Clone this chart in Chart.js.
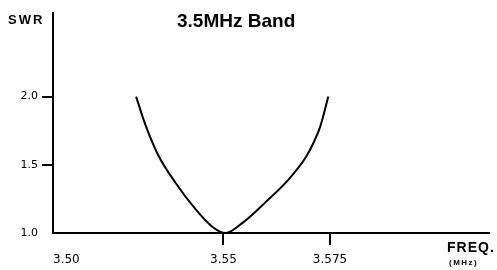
<!DOCTYPE html>
<html>
<head>
<meta charset="utf-8">
<script src="https://cdn.jsdelivr.net/npm/chart.js@4"></script>
<style>
  html, body { margin: 0; padding: 0; background: #fff; }
  #wrap { width: 497px; height: 270px; position: relative; }
</style>
</head>
<body>
<div id="wrap"><canvas id="chart"></canvas></div>
<script>
/* ===============================
   data
================================ */
const freqs = [3.5295, 3.5316, 3.5347, 3.5387, 3.5433, 3.5476, 3.5505,
               3.5547, 3.5600, 3.5652, 3.5692, 3.5711, 3.5727, 3.5746];
const swr = [2.0, 1.80, 1.57, 1.37, 1.18, 1.04, 1.0,
             1.08, 1.23, 1.39, 1.55, 1.66, 1.78, 2.0];

const xTickValues = [3.51, 3.55, 3.575, 3.6123];
const xTickLabels = ['3.50', '3.55', '3.575', ''];
const yTickValues = [1.0, 1.5, 2.0];
const yTickLabels = ['1.0', '1.5', '2.0'];

const titleText = '3.5MHz Band';
const yTitle = 'SWR';
const xTitle = 'FREQ.';
const xUnit = '(MHz)';

/* ===============================
   text overlay
================================ */
const labelsPlugin = {
  id: 'labels',
  afterDraw(chart) {
    const c = chart.ctx;
    c.save();
    c.fillStyle = '#000';
    c.textBaseline = 'alphabetic';
    c.textAlign = 'left';

    c.font = 'bold 19px "Liberation Sans", Arial, sans-serif';
    c.letterSpacing = '0px';
    c.fillText(titleText, 177, 27);

    c.font = 'bold 13px "Liberation Sans", Arial, sans-serif';
    c.letterSpacing = '2px';
    c.fillText(yTitle, 8, 24);

    c.font = 'bold 14px "Liberation Sans", Arial, sans-serif';
    c.letterSpacing = '1px';
    c.fillText(xTitle, 447, 252);

    c.font = 'bold 8px "Liberation Sans", Arial, sans-serif';
    c.letterSpacing = '1.5px';
    c.fillText(xUnit, 449, 265);
    c.restore();
  }
};

const ctx = document.getElementById('chart').getContext('2d');

const chart = new Chart(ctx, {
  type: 'line',
  data: {
    datasets: [{
      data: freqs.map((f, i) => ({ x: f, y: swr[i] })),
      borderColor: '#000',
      backgroundColor: 'transparent',
      borderWidth: 2,
      pointRadius: 0,
      cubicInterpolationMode: 'monotone',
      clip: false
    }]
  },
  options: {
    responsive: true,
    maintainAspectRatio: false,
    animation: false,
    layout: { padding: { top: 13, right: 8, left: 0, bottom: 0 } },
    plugins: {
      legend: { display: false },
      tooltip: { enabled: false }
    },
    scales: {
      x: {
        type: 'linear',
        min: xTickValues[0],
        max: xTickValues[xTickValues.length - 1],
        afterBuildTicks: s => { s.ticks = xTickValues.map(v => ({ value: v })); },
        afterFit: s => { s.height = 37; },
        border: { display: true, color: '#000', width: 2 },
        grid: {
          drawOnChartArea: false,
          tickLength: 12,
          lineWidth: 2,
          color: c => (c.index === 0 || c.index === xTickValues.length - 1) ? 'rgba(0,0,0,0)' : '#000'
        },
        ticks: {
          autoSkip: false,
          maxRotation: 0,
          align: 'inner',
          padding: 8,
          color: '#000',
          font: { family: '"DejaVu Sans", sans-serif', size: 12 },
          callback: (v, i) => xTickLabels[i]
        }
      },
      y: {
        type: 'linear',
        min: 1.0,
        max: 2.613,
        afterBuildTicks: s => { s.ticks = yTickValues.map(v => ({ value: v })); },
        afterFit: s => { s.width = 53; },
        border: { display: true, color: '#000', width: 2 },
        grid: {
          drawOnChartArea: false,
          tickLength: 11,
          lineWidth: 2,
          color: c => c.index === 0 ? 'rgba(0,0,0,0)' : '#000'
        },
        ticks: {
          padding: 4,
          color: '#000',
          font: { family: '"DejaVu Sans", sans-serif', size: 11 },
          callback: (v, i) => yTickLabels[i]
        }
      }
    }
  },
  plugins: [labelsPlugin]
});
</script>
</body>
</html>
